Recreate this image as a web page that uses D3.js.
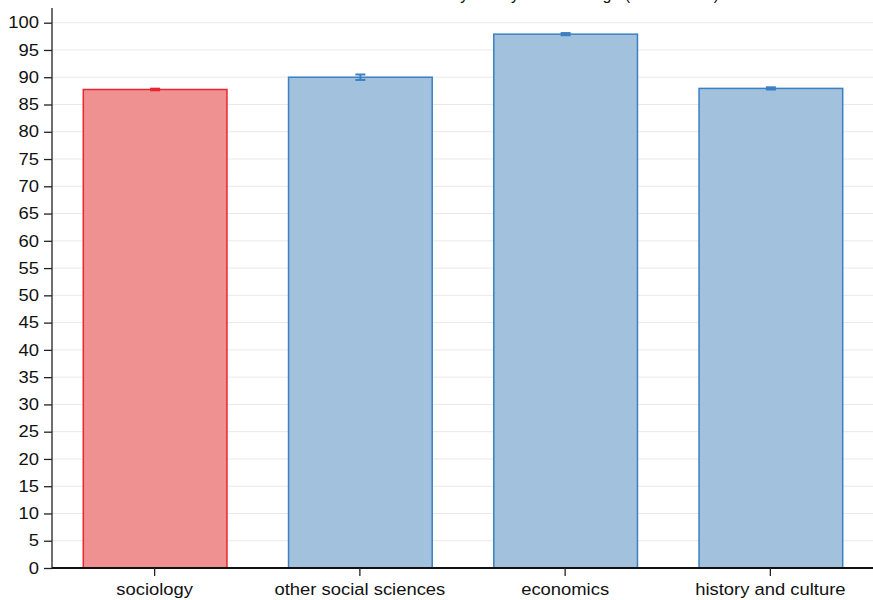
<!DOCTYPE html>
<html>
<head>
<meta charset="utf-8">
<script src="https://cdn.jsdelivr.net/npm/d3@7/dist/d3.min.js"></script>
<style>
  html, body { margin: 0; padding: 0; background: #fff; }
  svg { display: block; font-family: "Liberation Sans", Arial, Helvetica, sans-serif; }
</style>
</head>
<body>
<svg id="chart" width="873" height="600"></svg>
<script>
// Mean score per faculty with a small confidence interval
const categories = ["sociology", "other social sciences", "economics", "history and culture"];
const means = [87.75, 90.0, 97.9, 87.95];
const lower = [87.6, 89.5, 97.7, 87.75];
const upper = [87.9, 90.5, 98.1, 88.15];
const highlight = [true, false, false, false];
const yTicks = d3.range(0, 101, 5);
const title = "Student satisfaction by faculty: total average (mean score)";

const W = 873, H = 600;
const margin = { left: 52, right: 0, top: 22.7, bottom: 32 };
const svg = d3.select("#chart");

const x = d3.scaleBand()
  .domain(categories)
  .range([margin.left, W - margin.right])
  .paddingInner(0.3)
  .paddingOuter(0.15);

const y = d3.scaleLinear()
  .domain([0, 100])
  .range([H - margin.bottom, margin.top]);

const fontSize = 16.3;
const stretch = 1.13;

// widen the type a little, as in a wide Helvetica setting
function widen(sel) {
  sel.each(function () {
    const len = this.getComputedTextLength();
    d3.select(this)
      .attr("textLength", len * stretch)
      .attr("lengthAdjust", "spacingAndGlyphs");
  });
}

// horizontal grid
svg.append("g")
  .selectAll("line")
  .data(yTicks.filter(d => d > 0))
  .join("line")
  .attr("x1", margin.left).attr("x2", W)
  .attr("y1", d => y(d)).attr("y2", d => y(d))
  .attr("stroke", "#e9e9e9").attr("stroke-width", 1);

// bars
const rows = categories.map((c, i) => ({ c, m: means[i], lo: lower[i], hi: upper[i], hl: highlight[i] }));
const fillOf = d => d.hl ? "#f09191" : "#a1c1dc";
const strokeOf = d => d.hl ? "#e8262d" : "#3b80c2";

svg.append("g")
  .selectAll("rect")
  .data(rows)
  .join("rect")
  .attr("x", d => x(d.c) + 0.5)
  .attr("width", x.bandwidth())
  .attr("y", d => y(d.m))
  .attr("height", d => y(0) - y(d.m))
  .attr("fill", fillOf)
  .attr("stroke", strokeOf)
  .attr("stroke-width", 1.5);

// confidence intervals
const eb = svg.append("g");
rows.forEach(d => {
  const cx = x(d.c) + x.bandwidth() / 2 + 0.5;
  const g = eb.append("g").attr("stroke", strokeOf(d)).attr("stroke-width", 2);
  g.append("line").attr("x1", cx).attr("x2", cx).attr("y1", y(d.lo)).attr("y2", y(d.hi));
  g.append("line").attr("x1", cx - 5).attr("x2", cx + 5).attr("y1", y(d.lo)).attr("y2", y(d.lo));
  g.append("line").attr("x1", cx - 5).attr("x2", cx + 5).attr("y1", y(d.hi)).attr("y2", y(d.hi));
});

// y axis
const yAxis = svg.append("g")
  .attr("transform", `translate(${margin.left},0)`)
  .call(d3.axisLeft(y).tickValues(yTicks).tickSize(8).tickPadding(5));
yAxis.select(".domain").attr("d", `M0,8V${y(0)}`).attr("stroke", "#222").attr("stroke-width", 1.3);
yAxis.selectAll(".tick line").attr("stroke", "#222").attr("stroke-width", 1.3);
yAxis.selectAll(".tick text").attr("font-size", fontSize).attr("fill", "#111").attr("font-family", null).call(widen);

// x axis
const xAxis = svg.append("g")
  .attr("transform", `translate(0,${y(0)})`)
  .call(d3.axisBottom(x).tickSize(8).tickPadding(7));
xAxis.select(".domain").attr("d", `M${margin.left},0H${W}`).attr("stroke", "#111").attr("stroke-width", 2);
xAxis.selectAll(".tick line").attr("stroke", "#222").attr("stroke-width", 1.3);
xAxis.selectAll(".tick text").attr("font-size", fontSize).attr("fill", "#111").attr("font-family", null).call(widen);

// title, set mostly above the top edge
svg.append("text")
  .attr("x", 719).attr("y", 0)
  .attr("text-anchor", "end")
  .attr("font-size", 16)
  .attr("fill", "#111")
  .text(title);
</script>
</body>
</html>
